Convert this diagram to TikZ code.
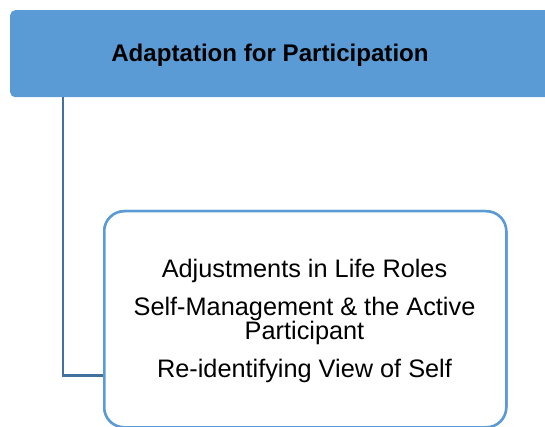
\documentclass[tikz,border=0pt]{standalone}
\usepackage{fontspec}
\setmainfont{Liberation Sans}
\usetikzlibrary{calc}
\definecolor{boxblue}{HTML}{5B9BD5}
\definecolor{linkblue}{HTML}{41719C}
\newcommand\myitemfont{\fontsize{25.3}{23.3}\selectfont\lineskiplimit=-100pt\relax\lineskip=0pt\relax}
\begin{document}
\begin{tikzpicture}[x=1pt,y=1pt,
  titlebox/.style={fill=boxblue, draw=none, rounded corners=5pt, minimum width=560pt, minimum height=87pt, inner sep=0pt},
  subbox/.style={draw=boxblue, line width=2.5pt, fill=white, rounded corners=20pt, minimum width=402pt, minimum height=216pt, inner sep=0pt},
  link/.style={draw=linkblue, line width=2.5pt}]
\useasboundingbox (0,0) rectangle (545,-427);
\clip (0,0) rectangle (545,-427);
\node[titlebox, anchor=north west] (title) at (10,-10) {};
\node[font=\bfseries\fontsize{24.1}{28}\selectfont, anchor=base] (titletext) at (270,-61.7) {Adaptation for Participation};
\node[subbox, anchor=north west] (sub) at (103,-210) {};
\coordinate (elbow) at (63,-375.5);
\draw[link] (title.south -| elbow) -- (elbow) -- (elbow -| sub.west);
\node[subbox, anchor=north west] at (103,-210) {};
\node[align=center, inner sep=0pt, font=\myitemfont, anchor=north] (items) at (304.5,-258.6)
  {Adjustments in Life Roles\\[15.3pt]Self-Management \& the Active\\Participant\\[15.6pt]Re-identifying View of Self};
\end{tikzpicture}
\end{document}
